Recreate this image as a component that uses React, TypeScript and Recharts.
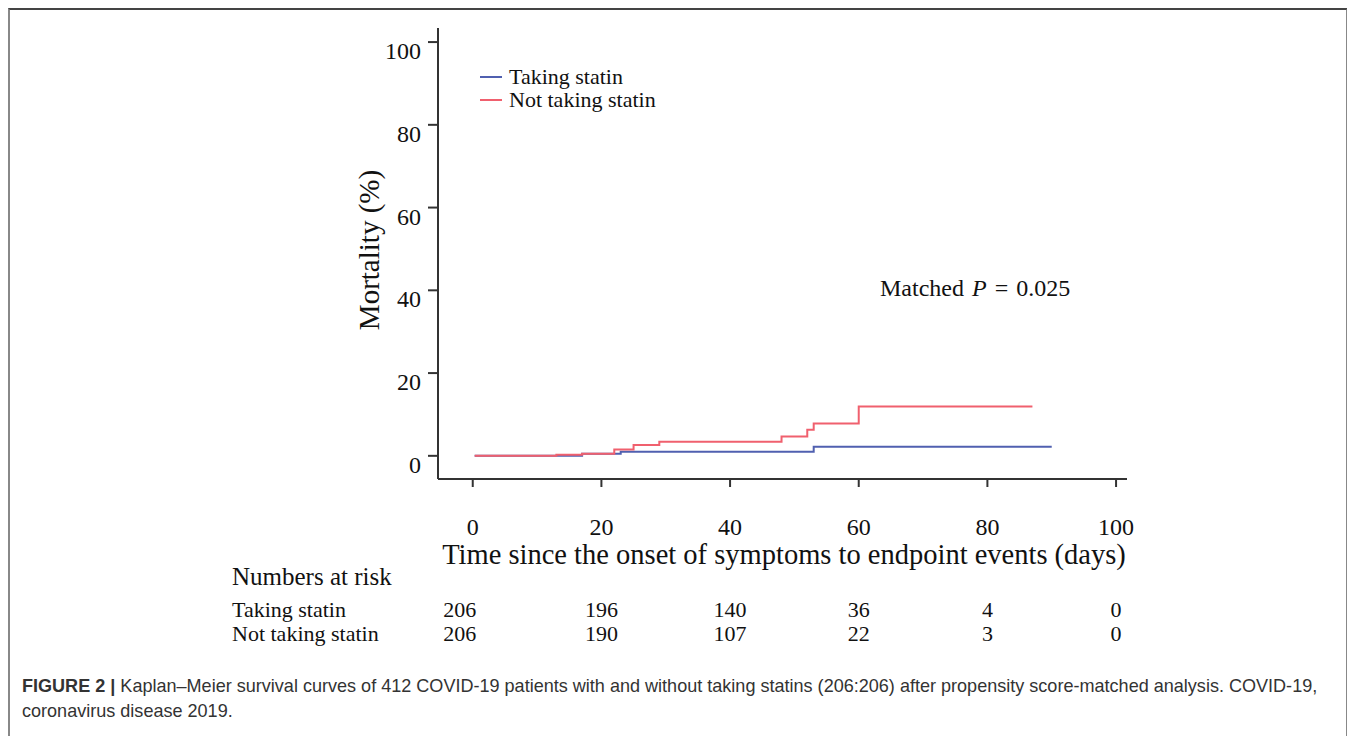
import { Line, LineChart, XAxis, YAxis } from "recharts";

// Kaplan-Meier step points (days, mortality %)
const takingDays = [0.3, 17, 23, 53, 90];
const takingMortality = [0, 0.5, 1.0, 2.2, 2.2];

const notTakingDays = [0.3, 13, 17, 22, 25, 29, 48, 52, 53, 60, 87];
const notTakingMortality = [0, 0.25, 0.5, 1.5, 2.6, 3.4, 4.7, 6.3, 7.8, 11.9, 11.9];

const xTicks = [0, 20, 40, 60, 80, 100];
const yTicks = [0, 20, 40, 60, 80, 100];

const seriesNames = ["Taking statin", "Not taking statin"];
const riskTaking = [206, 196, 140, 36, 4, 0];
const riskNotTaking = [206, 190, 107, 22, 3, 0];

const takingData = takingDays.map((day, i) => ({ day, mort: takingMortality[i] }));
const notTakingData = notTakingDays.map((day, i) => ({ day, mort: notTakingMortality[i] }));

const X_DOMAIN: [number, number] = [-5.4, 101.7];
const Y_DOMAIN: [number, number] = [-5.6, 103.4];

const BLUE = "#5060b0";
const RED = "#f0606e";
const AXIS = "#333";
const SERIF = "'Liberation Serif', 'Times New Roman', serif";

// plot box in wrapper coordinates (matches chart margins below)
const PLOT_LEFT = 430;
const PLOT_RIGHT = 1119;
const dayToX = (d: number) =>
  PLOT_LEFT + ((d - X_DOMAIN[0]) / (X_DOMAIN[1] - X_DOMAIN[0])) * (PLOT_RIGHT - PLOT_LEFT);

function YTick(props: any) {
  const { x, y, payload } = props;
  return (
    <text x={x} y={y + 17} textAnchor="end" fill="#111" fontSize={24} fontFamily={SERIF}>
      {payload.value}
    </text>
  );
}

function XTick(props: any) {
  const { x, y, payload } = props;
  return (
    <text x={x} y={y + 46} textAnchor="middle" fill="#111" fontSize={24} fontFamily={SERIF}>
      {payload.value}
    </text>
  );
}

export default function App() {
  const riskRows = [riskTaking, riskNotTaking];
  const colors = [BLUE, RED];
  return (
    <div style={{ position: "relative", width: 1340, height: 728, fontFamily: SERIF }}>
      <div
        style={{
          position: "absolute",
          left: 0,
          top: 0,
          width: 1340,
          height: 728,
          boxSizing: "border-box",
          borderTop: "2px solid #444",
          borderLeft: "2px solid #888",
          borderRight: "2px solid #888",
        }}
      />
      <div style={{ position: "absolute", left: 0, top: 0 }}>
        <LineChart width={1300} height={560} margin={{ top: 20, right: 181, left: 350, bottom: 29 }}>
          <XAxis
            dataKey="day"
            type="number"
            domain={X_DOMAIN}
            ticks={xTicks}
            allowDataOverflow
            height={60}
            tickSize={8}
            tickMargin={2}
            tick={<XTick />}
            axisLine={{ stroke: AXIS, strokeWidth: 2 }}
            tickLine={{ stroke: AXIS, strokeWidth: 2 }}
          />
          <YAxis
            type="number"
            domain={Y_DOMAIN}
            ticks={yTicks}
            allowDataOverflow
            width={80}
            tickSize={10}
            tickMargin={7}
            tick={<YTick />}
            axisLine={{ stroke: AXIS, strokeWidth: 2 }}
            tickLine={{ stroke: AXIS, strokeWidth: 2 }}
          />
          <Line
            data={takingData}
            dataKey="mort"
            name="Taking statin"
            type="stepAfter"
            stroke={BLUE}
            strokeWidth={2}
            dot={false}
            isAnimationActive={false}
          />
          <Line
            data={notTakingData}
            dataKey="mort"
            name="Not taking statin"
            type="stepAfter"
            stroke={RED}
            strokeWidth={2}
            dot={false}
            isAnimationActive={false}
          />
        </LineChart>
      </div>

      {/* legend */}
      <div style={{ position: "absolute", left: 472, top: 57, fontSize: 22, color: "#111" }}>
        {seriesNames.map((name, i) => (
          <div key={name} style={{ display: "flex", alignItems: "center", height: 23 }}>
            <span style={{ width: 22, height: 2, background: colors[i], marginRight: 7 }} />
            <span>{name}</span>
          </div>
        ))}
      </div>

      {/* axis titles */}
      <div
        style={{
          position: "absolute",
          left: 361,
          top: 242,
          transform: "translate(-50%, -50%) rotate(-90deg)",
          fontSize: 29,
          whiteSpace: "nowrap",
          color: "#111",
        }}
      >
        Mortality (%)
      </div>
      <div
        style={{
          position: "absolute",
          left: 776,
          top: 547,
          transform: "translate(-50%, -50%)",
          fontSize: 28.5,
          whiteSpace: "nowrap",
          color: "#111",
        }}
      >
        Time since the onset of symptoms to endpoint events (days)
      </div>

      {/* p value */}
      <div
        style={{
          position: "absolute",
          left: 872,
          top: 267,
          fontSize: 24,
          wordSpacing: 2,
          whiteSpace: "nowrap",
          color: "#111",
        }}
      >
        Matched <i>P</i> = 0.025
      </div>

      {/* numbers at risk */}
      <div style={{ position: "absolute", left: 224, top: 555, fontSize: 25, whiteSpace: "nowrap", color: "#111" }}>
        Numbers at risk
      </div>
      {seriesNames.map((g, r) => (
        <div key={g}>
          <div
            style={{
              position: "absolute",
              left: 224,
              top: 589 + r * 24,
              fontSize: 22,
              whiteSpace: "nowrap",
              color: "#111",
            }}
          >
            {g}
          </div>
          {riskRows[r].map((n, i) => (
            <div
              key={i}
              style={{
                position: "absolute",
                left: dayToX(xTicks[i]) - (i === 0 ? 13 : 0),
                top: 589 + r * 24,
                transform: "translateX(-50%)",
                fontSize: 22,
                whiteSpace: "nowrap",
                color: "#111",
              }}
            >
              {n}
            </div>
          ))}
        </div>
      ))}

      {/* caption */}
      <div
        style={{
          position: "absolute",
          left: 14,
          top: 665,
          width: 1400,
          transform: "scaleX(0.95)",
          transformOrigin: "left top",
          fontFamily: "'Liberation Sans', Arial, sans-serif",
          fontSize: 19,
          lineHeight: "25px",
          color: "#333",
          whiteSpace: "nowrap",
        }}
      >
        <b>FIGURE 2 |</b> Kaplan–Meier survival curves of 412 COVID-19 patients with and without taking statins
        (206:206) after propensity score-matched analysis. COVID-19,
        <br />
        coronavirus disease 2019.
      </div>
    </div>
  );
}
